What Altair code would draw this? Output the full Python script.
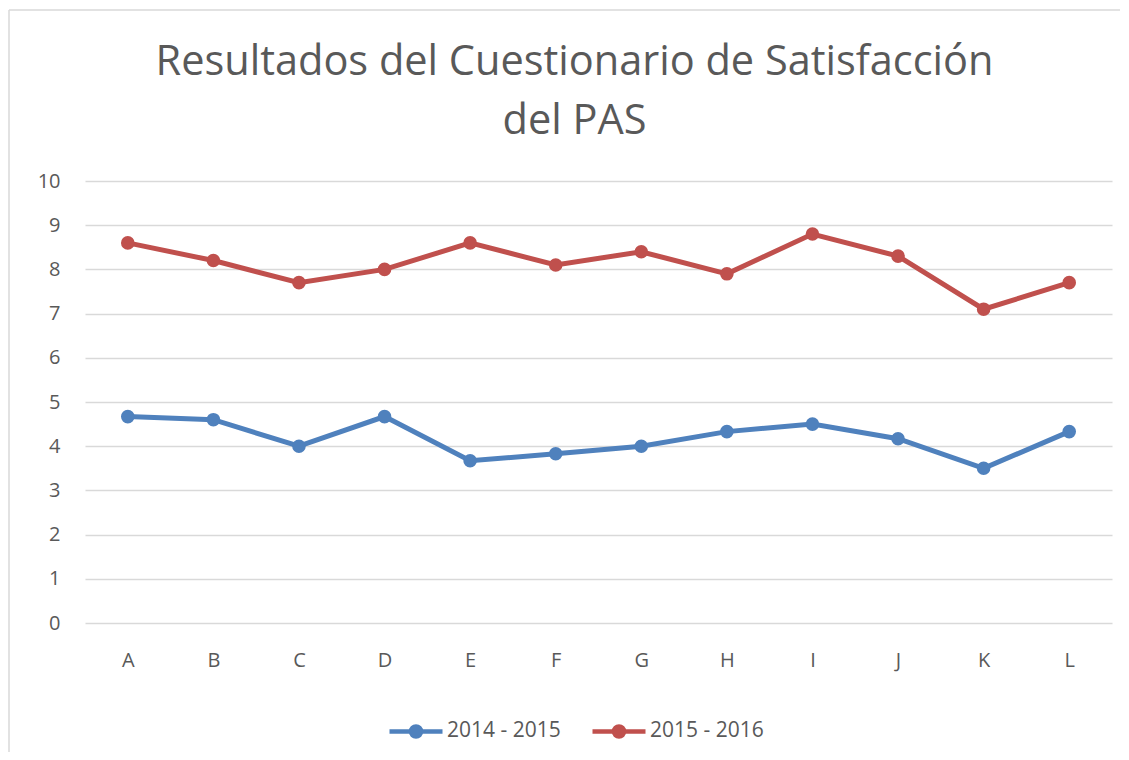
import altair as alt
import pandas as pd

categories = ["A", "B", "C", "D", "E", "F", "G", "H", "I", "J", "K", "L"]
series_names = ["2014 - 2015", "2015 - 2016"]
values_2014_2015 = [4.67, 4.6, 4.0, 4.67, 3.67, 3.83, 4.0, 4.33, 4.5, 4.17, 3.5, 4.33]
values_2015_2016 = [8.6, 8.2, 7.7, 8.0, 8.6, 8.1, 8.4, 7.9, 8.8, 8.3, 7.1, 7.7]
y_ticks = [0, 1, 2, 3, 4, 5, 6, 7, 8, 9, 10]
colors = ["#4F81BD", "#C0504D"]

rows = []
for name, vals in zip(series_names, [values_2014_2015, values_2015_2016]):
    for c, v in zip(categories, vals):
        rows.append({"cat": c, "serie": name, "valor": v})
df = pd.DataFrame(rows)

FONT = "Open Sans"
TXT = "#595959"
GRID = "#D9D9D9"

legend_path = ("M-1,0L1,0"
               "M0.075,0A0.075,0.075,0,1,1,-0.075,0A0.075,0.075,0,1,1,0.075,0"
               "M0.19,0A0.19,0.19,0,1,1,-0.19,0A0.19,0.19,0,1,1,0.19,0")

lines = alt.Chart(df).mark_line(
    strokeWidth=5,
    point=alt.OverlayMarkDef(size=185, filled=True, opacity=1),
).encode(
    x=alt.X("cat:N", sort=categories, title=None,
            axis=alt.Axis(domain=False, ticks=False, tickSize=0, grid=False,
                          labelAngle=0, labelPadding=27, labelFontSize=20,
                          labelColor=TXT, labelFont=FONT)),
    y=alt.Y("valor:Q", title=None,
            scale=alt.Scale(domain=[0, 10], nice=False, zero=True),
            axis=alt.Axis(values=y_ticks, domain=False, ticks=False, tickSize=0,
                          grid=True, gridColor=GRID, gridWidth=1.3,
                          labelPadding=25, labelFontSize=20, labelColor=TXT,
                          labelFont=FONT)),
    color=alt.Color("serie:N", sort=series_names, title=None,
                    scale=alt.Scale(domain=series_names, range=colors),
                    legend=alt.Legend(orient="none", direction="horizontal",
                                      legendX=302, legendY=521,
                                      symbolType=legend_path, symbolSize=2809,
                                      symbolStrokeWidth=4.5, labelOffset=2,
                                      columnPadding=22, labelFontSize=21,
                                      labelColor=TXT, labelFont=FONT)),
)

one = pd.DataFrame({"a": [0]})
border_left = alt.Chart(one).mark_rule(
    stroke=GRID, strokeWidth=1.5, clip=False
).encode(x=alt.value(-76), y=alt.value(-171), y2=alt.value(571))
border_top = alt.Chart(one).mark_rule(
    stroke=GRID, strokeWidth=1.5, clip=False
).encode(x=alt.value(-76), x2=alt.value(1035), y=alt.value(-171))

chart = alt.layer(border_left, border_top, lines).properties(
    width=1027,
    height=442,
    title=alt.TitleParams(
        text=["Resultados del Cuestionario de Satisfacción", "del PAS"],
        fontSize=41.5, font=FONT, fontWeight="normal", color=TXT,
        anchor="middle", frame="group", dx=-24, offset=0, dy=133,
        lineHeight=59,
    ),
    autosize=alt.AutoSizeParams(type="none"),
    padding={"left": 77, "top": 173, "right": 8, "bottom": 129},
).configure_view(stroke=None)

chart.save("out.html", embed_options={"renderer": "svg", "actions": False})
